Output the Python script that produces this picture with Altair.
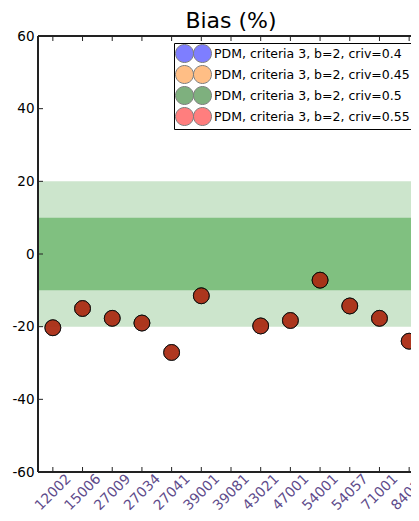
import altair as alt
import pandas as pd

# ---- data ----
stations = ["12002", "15006", "27009", "27034", "27041", "39001", "39081",
            "43021", "47001", "54001", "54057", "71001", "84013"]
bias = [-20.3, -15.0, -17.7, -19.0, -27.1, -11.5, None,
        -19.8, -18.3, -7.2, -14.3, -17.7, -24.0]
series = ["PDM, criteria 3, b=2, criv=0.4",
          "PDM, criteria 3, b=2, criv=0.45",
          "PDM, criteria 3, b=2, criv=0.5",
          "PDM, criteria 3, b=2, criv=0.55"]
series_colors = ["#0000ff", "#ff7f0e", "#006400", "#ff0000"]
y_ticks = [-60, -40, -20, 0, 20, 40, 60]
outer_band = [-20, 20]
inner_band = [-10, 10]

outer_color = "#cce5cc"
inner_color = "#80c080"
FULL_W = 386      # full plot width (partly cut off at the right, as in the reference)
W, H = 373, 436   # visible part of the plot

rows = []
for s in series:
    for st, b in zip(stations, bias):
        if b is not None:
            rows.append({"series": s, "station": st, "bias": b})
pts = pd.DataFrame(rows)

x_scale = alt.Scale(type="point", domain=stations, padding=0.5, range=[0, FULL_W])
y_scale = alt.Scale(domain=[-60, 60], nice=False, zero=False)

x_axis = alt.Axis(labelAngle=315, labelAlign="center", labelBaseline="middle",
                  labelPadding=20, labelFontSize=14, labelFont="DejaVu Sans",
                  labelColor="#5e4b8b", ticks=False, domain=False, grid=False,
                  labelOverlap=False)
y_axis = alt.Axis(values=y_ticks, labelExpr="datum.value + ''",
                  labelFontSize=13.5, labelFont="DejaVu Sans",
                  labelColor="black", ticks=False, domain=False, grid=False,
                  labelPadding=4, minExtent=30, maxExtent=30)

outer = alt.Chart(pd.DataFrame({"lo": [outer_band[0]], "hi": [outer_band[1]]})).mark_rect(
    color=outer_color).encode(
    y=alt.Y("lo:Q", scale=y_scale, axis=y_axis, title=None), y2="hi:Q")
inner = alt.Chart(pd.DataFrame({"lo": [inner_band[0]], "hi": [inner_band[1]]})).mark_rect(
    color=inner_color).encode(
    y=alt.Y("lo:Q", scale=y_scale, axis=y_axis, title=None), y2="hi:Q")

xt = pd.DataFrame({"station": stations})
yt = pd.DataFrame({"tick": y_ticks})
frame_color = "#222"

top_ticks = alt.Chart(xt).mark_rule(color=frame_color, strokeWidth=1).encode(
    x=alt.X("station:N", scale=x_scale, axis=x_axis, title=None),
    y=alt.value(0), y2=alt.value(5))
bottom_ticks = alt.Chart(xt).mark_rule(color=frame_color, strokeWidth=1).encode(
    x=alt.X("station:N", scale=x_scale, axis=x_axis, title=None),
    y=alt.value(H), y2=alt.value(H - 5))
left_ticks = alt.Chart(yt).mark_rule(color=frame_color, strokeWidth=1).encode(
    y=alt.Y("tick:Q", scale=y_scale, axis=y_axis, title=None),
    x=alt.value(0), x2=alt.value(5))

spine_top = alt.Chart(xt).mark_rule(color=frame_color, strokeWidth=1).encode(
    x=alt.value(0), x2=alt.value(W), y=alt.value(0))
spine_bottom = alt.Chart(xt).mark_rule(color=frame_color, strokeWidth=1).encode(
    x=alt.value(0), x2=alt.value(W), y=alt.value(H))
spine_left = alt.Chart(xt).mark_rule(color=frame_color, strokeWidth=1).encode(
    x=alt.value(0), y=alt.value(0), y2=alt.value(H))

two_circles = ("M-2,0A1,1 0 1,1 0,0A1,1 0 1,1 -2,0Z "
               "M0,0A1,1 0 1,1 2,0A1,1 0 1,1 0,0Z")

legend = alt.Legend(orient="none", legendX=136, legendY=7,
                    symbolType=two_circles, symbolSize=324, symbolOffset=9,
                    labelOffset=11, symbolOpacity=0.5, symbolStrokeColor="black",
                    symbolStrokeWidth=1, labelFontSize=12.5, labelFont="DejaVu Sans",
                    labelColor="black", labelLimit=400, strokeColor="black",
                    fillColor="white", padding=1, rowPadding=-8, cornerRadius=0)

points = alt.Chart(pts).mark_point(
    filled=True, shape="circle", size=250, opacity=0.5,
    stroke="black", strokeWidth=1).encode(
    x=alt.X("station:N", scale=x_scale, axis=x_axis, title=None),
    y=alt.Y("bias:Q", scale=y_scale, axis=y_axis, title=None),
    color=alt.Color("series:N", scale=alt.Scale(domain=series, range=series_colors),
                    title=None, legend=legend))

chart = alt.layer(outer, inner, top_ticks, bottom_ticks, left_ticks,
                  spine_top, spine_bottom, spine_left, points).properties(
    width=W, height=H,
    title=alt.TitleParams("Bias (%)", fontSize=22, font="DejaVu Sans",
                          fontWeight="normal", anchor="middle", offset=4, dy=8,
                          dx=(FULL_W - W) / 2, frame="group", color="black"),
    autosize=alt.AutoSizeParams(type="none"),
    padding={"left": 30, "top": 28, "right": 0, "bottom": 41},
).configure_view(strokeWidth=0)

chart.save("out.html", embed_options={"renderer": "svg", "actions": False})
